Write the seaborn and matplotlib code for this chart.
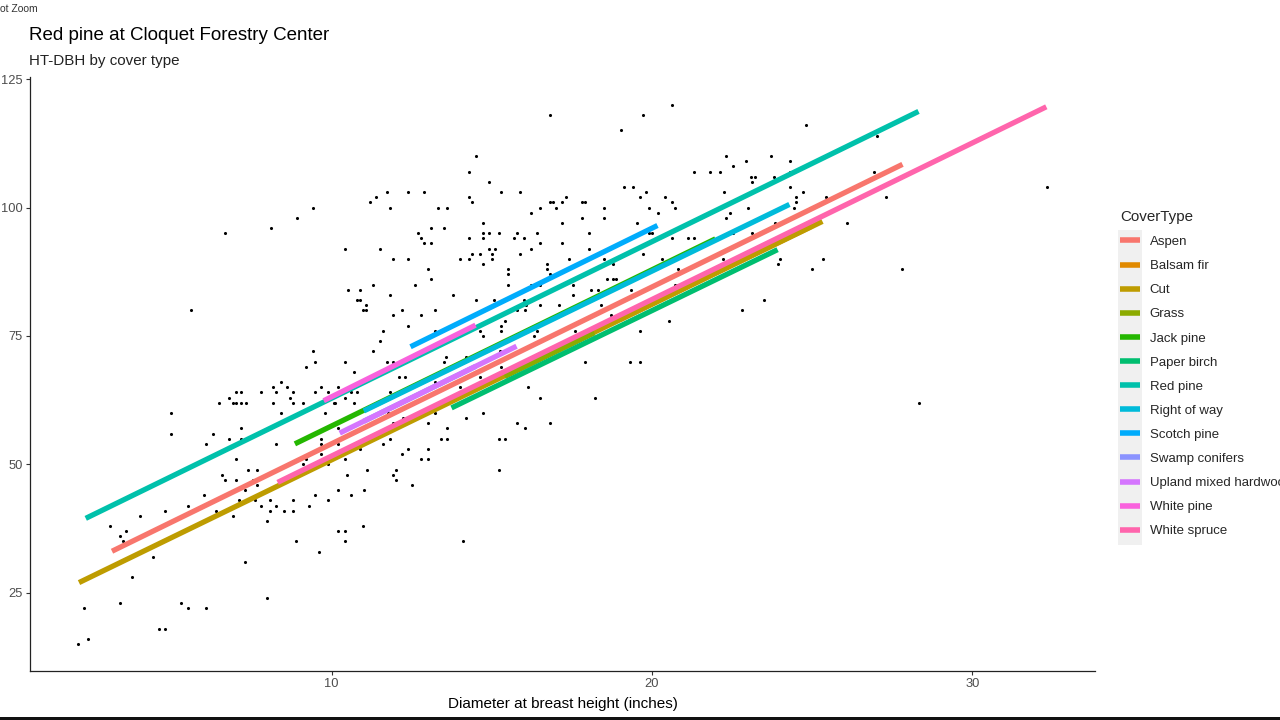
import matplotlib
matplotlib.use("Agg")
import matplotlib.pyplot as plt
from matplotlib.patches import Rectangle
import pandas as pd
import seaborn as sns

# Cover types (legend order) and ggplot-style hue colours
cover_types = ["Aspen", "Balsam fir", "Cut", "Grass", "Jack pine", "Paper birch",
               "Red pine", "Right of way", "Scotch pine", "Swamp conifers",
               "Upland mixed hardwood", "White pine", "White spruce"]
cover_colors = ["#F8766D", "#E18A00", "#BE9C00", "#8CAB00", "#24B700", "#00BE70",
                "#00C1AB", "#00BBDA", "#00ACFC", "#8B93FF", "#D575FE", "#F962DD",
                "#FF65AC"]

# Fitted HT-DBH line per cover type: start / end of each segment
fit_dbh_start = [3.14, 19.0, 2.11, 15.4, 8.85, 13.74, 2.32, 11.0, 12.46, 11.0, 10.25, 9.75, 8.31]
fit_dbh_end = [27.82, 25.0, 25.32, 18.2, 21.98, 23.92, 28.32, 24.29, 20.17, 14.5, 15.77, 14.49, 32.31]
fit_ht_start = [33.1, 78.2, 27.0, 67.1, 54.0, 61.0, 39.5, 60.4, 72.9, 58.4, 56.1, 62.4, 46.5]
fit_ht_end = [108.4, 96.4, 97.3, 75.6, 93.9, 91.8, 118.7, 100.6, 96.5, 69.1, 73.0, 77.1, 119.6]

# Individual trees: diameter at breast height (in) and height (ft)
tree_dbh = [
    5.60, 6.68, 8.09, 8.91, 9.40, 10.41, 10.51, 10.87, 10.80, 10.87, 9.40,
    2.09, 2.27, 2.40, 3.08, 3.39, 3.49, 3.58, 3.77, 3.39, 4.00, 4.41, 4.60, 4.78, 4.78,
    4.99, 4.99, 5.28, 5.51, 5.51, 6.09, 6.02, 6.09, 6.29, 6.39, 6.48, 6.78, 7.00, 7.18,
    6.78, 6.91, 7.00, 7.18, 7.33, 6.58, 6.68, 6.91, 7.00, 7.00, 7.11, 7.18, 7.18, 7.29,
    7.29, 7.39, 7.68, 7.53, 7.60, 7.68, 7.78, 7.78, 7.98, 7.98, 8.08, 8.08, 8.18, 8.18,
    8.27, 8.27, 8.27, 8.41, 8.41, 8.50, 8.60, 8.70, 8.78, 8.78, 8.80, 8.80, 8.90, 9.10,
    9.19, 9.19, 9.29, 9.49, 9.49, 9.49, 9.59, 9.68, 9.68, 9.68, 9.68, 9.78, 9.88, 9.88,
    9.98, 10.07, 10.20, 10.20, 10.20, 10.20, 10.20, 10.40, 10.40, 10.40, 10.49, 10.59,
    10.70, 10.70, 10.87, 10.40,
    16.80, 19.71, 20.63, 19.03, 14.52, 14.30, 14.91, 21.32,
    11.19, 11.39, 11.72, 11.81, 12.39, 12.89, 13.31, 13.61, 14.30, 14.39, 15.30, 15.89,
    16.22, 16.50, 16.80, 16.90, 17.00, 17.20, 17.30, 17.82, 17.91, 17.82, 18.50, 18.50,
    19.12, 19.42, 19.62, 19.81, 19.91, 20.20, 20.40, 20.63, 20.73, 19.52, 19.91, 20.00,
    11.51, 11.90, 12.39, 12.70, 12.80, 12.89, 13.11, 13.11, 13.50, 13.01, 13.11, 12.60,
    11.29, 11.08, 10.98, 11.08, 11.29, 11.61, 11.51, 11.81, 11.90, 12.19, 12.39, 12.79,
    13.21, 13.21, 13.80, 14.51, 14.71, 14.71, 14.71, 14.91, 15.21, 14.30, 14.91, 15.11,
    14.39, 14.62, 15.00, 14.01, 14.30, 14.71, 15.00, 15.50, 15.50, 15.50, 15.79, 15.70,
    15.99, 16.42, 16.50, 16.21, 15.89, 16.71, 16.71, 16.80, 16.21, 16.50, 17.20, 17.20,
    17.40, 18.02, 18.02, 18.50, 18.79, 18.60, 18.79, 18.89, 17.53, 17.53, 18.10, 18.30,
    15.06, 15.99, 16.07, 15.80, 16.02, 17.09, 16.50, 18.41, 18.71, 19.33, 19.71, 20.30,
    19.71, 20.82, 20.73, 20.82, 20.53, 19.62, 19.31, 19.62, 17.91, 17.61, 15.30, 15.40,
    15.30, 14.62, 14.71, 16.42, 16.31, 15.25, 14.20, 13.58, 11.72, 11.90, 12.10, 12.29,
    21.12, 21.31, 20.63,
    24.81, 27.03, 22.32, 23.73, 24.32, 22.92, 22.52, 21.81, 22.13, 23.10, 23.20, 23.82,
    23.11, 24.32, 26.94, 22.25, 24.32, 24.71, 24.51, 24.51, 24.43, 25.43, 27.32, 32.32,
    23.01, 22.32, 22.43, 24.92, 23.84, 26.09, 22.43, 22.54, 23.12, 22.22, 24.01, 23.92,
    25.34, 25.01, 27.82, 23.49, 22.82,
    28.35, 10.99, 14.10,
    9.88, 10.40, 10.60, 10.80, 10.10, 11.81, 12.21, 11.76, 11.61, 11.81, 11.90, 12.19,
    12.39, 13.01, 13.21, 13.01, 13.01, 12.79, 12.01, 11.90, 12.01, 12.50, 11.09, 11.01,
    9.10, 13.21, 14.01, 14.62, 14.71, 15.30, 15.21, 15.40, 15.21, 15.80, 16.02, 16.12,
    16.50, 16.80, 18.21, 14.20, 13.61, 13.61, 13.40, 13.50,
]
tree_ht = [
    80, 95, 96, 98, 100, 92, 84, 84, 82, 82, 72,
    15, 22, 16, 38, 36, 35, 37, 28, 23, 40, 32, 18, 18, 41,
    60, 56, 23, 22, 42, 22, 44, 54, 56, 41, 62, 63, 64, 64,
    55, 62, 62, 62, 62, 48, 47, 40, 51, 47, 43, 57, 55, 45,
    31, 49, 49, 47, 43, 46, 64, 42, 24, 39, 41, 43, 65, 62,
    64, 54, 42, 66, 60, 41, 65, 63, 64, 62, 43, 41, 35, 62,
    69, 51, 42, 70, 64, 44, 33, 65, 55, 54, 52, 60, 50, 43,
    54, 62, 65, 57, 54, 45, 37, 37, 35, 51, 48, 44,
    68, 62, 53, 70,
    118, 118, 120, 115, 110, 107, 105, 107,
    101, 102, 103, 100, 103, 103, 100, 100, 102, 101, 103, 103,
    99, 100, 101, 101, 100, 101, 102, 101, 101, 98, 100, 98,
    104, 104, 102, 103, 100, 99, 102, 101, 100, 97, 95, 95,
    92, 90, 90, 95, 94, 93, 93, 96, 96, 88, 86, 85,
    85, 81, 80, 80, 72, 76, 74, 83, 79, 80, 77, 79,
    80, 76, 83, 82, 97, 95, 94, 95, 95, 94, 92, 92,
    91, 91, 91, 90, 90, 89, 90, 88, 87, 85, 95, 94,
    94, 95, 93, 92, 91, 89, 88, 87, 85, 85, 97, 93,
    90, 95, 92, 90, 89, 86, 86, 86, 85, 83, 84, 84,
    82, 82, 81, 80, 80, 81, 81, 81, 79, 84, 84, 90,
    91, 88, 85, 85, 78, 76, 70, 70, 70, 76, 77, 78,
    76, 76, 75, 76, 75, 72, 71, 71, 70, 70, 67, 67,
    94, 94, 94,
    116, 114, 110, 110, 109, 109, 108, 107, 107, 106, 106, 106,
    105, 107, 107, 103, 104, 103, 102, 101, 100, 102, 102, 104,
    100, 98, 99, 100, 97, 97, 95, 95, 95, 90, 90, 89,
    90, 88, 88, 82, 80,
    62, 38, 35,
    64, 63, 64, 64, 62, 64, 59, 60, 54, 55, 58, 52,
    53, 58, 60, 53, 51, 51, 49, 48, 47, 46, 49, 45,
    50, 66, 65, 67, 60, 69, 55, 55, 49, 58, 57, 65,
    63, 58, 63, 59, 57, 55, 55, 70,
]

trees = pd.DataFrame({"DBH": tree_dbh, "HT": tree_ht})
fits = pd.DataFrame({
    "CoverType": cover_types * 2,
    "DBH": fit_dbh_start + fit_dbh_end,
    "HT": fit_ht_start + fit_ht_end,
})
palette = dict(zip(cover_types, cover_colors))

sns.set_style("ticks")
plt.rcParams["font.family"] = ["Liberation Sans", "DejaVu Sans"]

fig = plt.figure(figsize=(12.8, 7.2), dpi=100)
ax = fig.add_axes([30 / 1280, 49.3 / 720, 1065 / 1280, 593.7 / 720])

sns.scatterplot(data=trees, x="DBH", y="HT", color="black", s=5, linewidth=0,
                legend=False, ax=ax)
sns.lineplot(data=fits, x="DBH", y="HT", hue="CoverType", hue_order=cover_types,
             palette=palette, estimator=None, linewidth=3.8, solid_capstyle="butt",
             ax=ax)

ax.set_xlim(0.58, 33.83)
ax.set_ylim(9.85, 125.4)
ax.set_xticks([10, 20, 30])
ax.set_yticks([25, 50, 75, 100, 125])
ax.tick_params(length=3, width=0.8, color="#333333", labelcolor="#4D4D4D",
               labelsize=9.3, pad=2)
for side in ["left", "bottom"]:
    ax.spines[side].set_color("#222222")
    ax.spines[side].set_linewidth(0.9)
sns.despine(ax=ax)
ax.set_ylabel("")
ax.set_xlabel("Diameter at breast height (inches)", fontsize=11, color="black",
              labelpad=5.5)

# legend on the right, as in ggplot
handles, labels = ax.get_legend_handles_labels()
leg = ax.legend(handles, labels, title="CoverType", loc="upper left",
                bbox_to_anchor=(1120 / 1280, 1 - 210 / 720),
                bbox_transform=fig.transFigure, frameon=False, fontsize=9.5,
                title_fontsize=10.9, handlelength=1.5, handletextpad=0.75,
                labelspacing=0.9, borderpad=0, borderaxespad=0, alignment="left")
for ln in leg.get_lines():
    ln.set_linewidth(4)
    ln.set_solid_capstyle("butt")
fig.add_artist(Rectangle((1118 / 1280, 1 - 545 / 720), 24 / 1280, 315 / 720,
                         transform=fig.transFigure, facecolor="#F0F0F0",
                         edgecolor="none", zorder=0))

fig.text(29 / 1280, 1 - 36 / 720, "Red pine at Cloquet Forestry Center",
         fontsize=13.5, va="center", ha="left", color="black")
fig.text(29 / 1280, 1 - 61 / 720, "HT-DBH by cover type",
         fontsize=10.9, va="center", ha="left", color="#222222")

# screenshot frame bits
fig.text(0, 1 - 9 / 720, "ot Zoom", fontsize=7.5, va="center", ha="left",
         color="#333333")
fig.add_artist(Rectangle((0, 0), 1, 3 / 720, transform=fig.transFigure,
                         facecolor="#111111", edgecolor="none"))

fig.savefig("out.png", dpi=100)
